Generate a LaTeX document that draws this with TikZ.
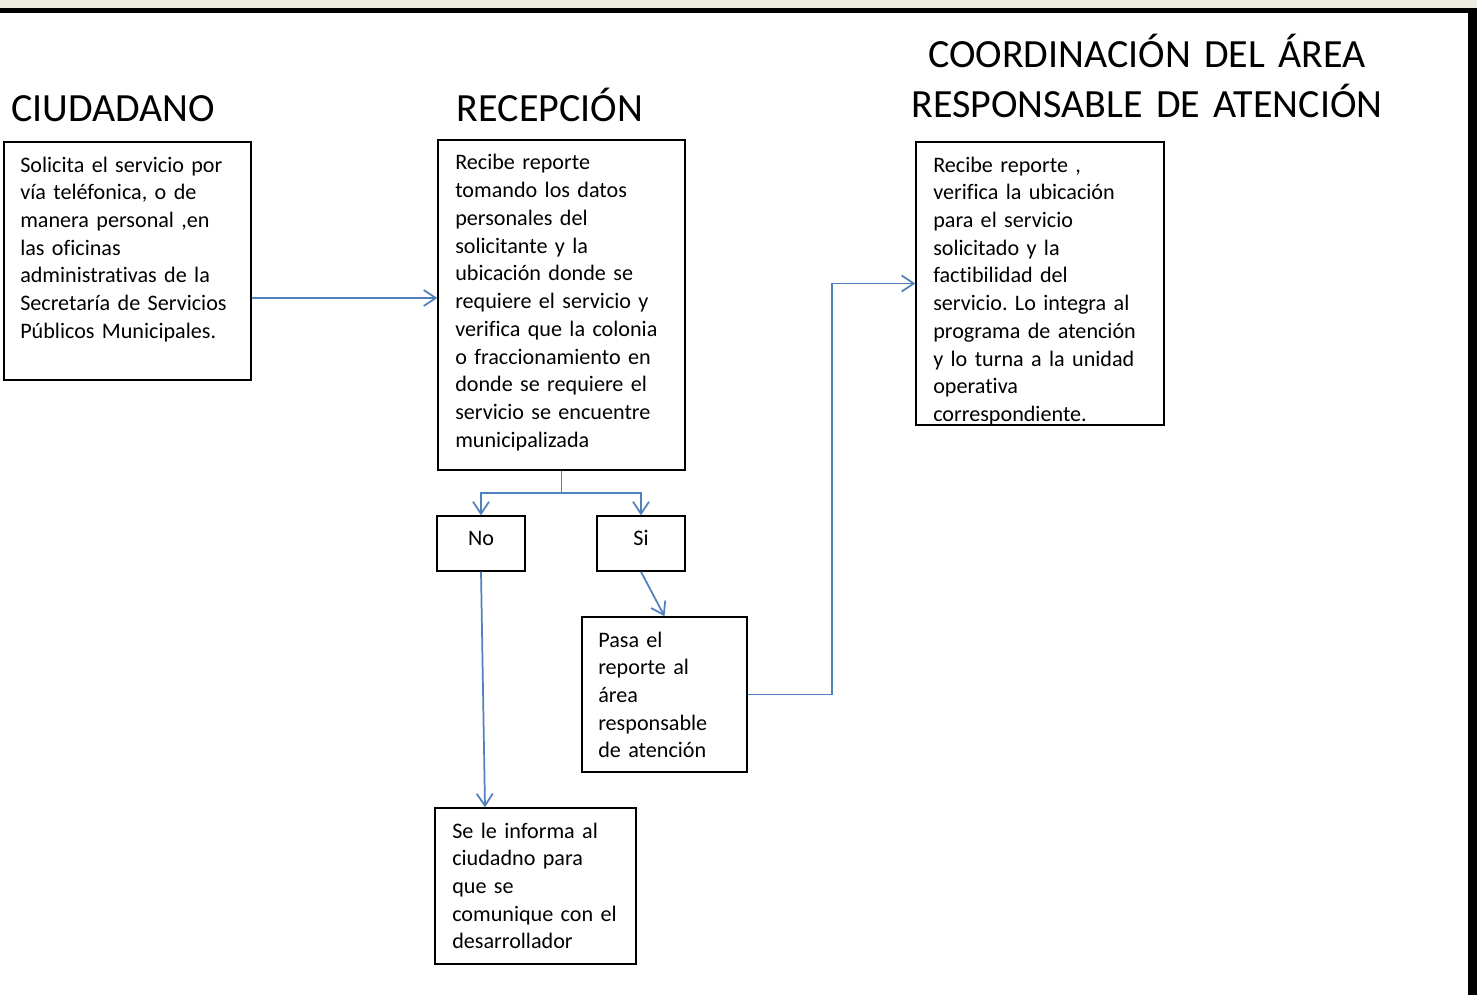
\documentclass[tikz,border=0pt]{standalone}
\usepackage{fontspec}
\setmainfont{Carlito}[Ligatures=CommonOff]
\frenchspacing
\usetikzlibrary{arrows.meta,fit}
\definecolor{flowblue}{RGB}{79,129,189}
\definecolor{topbeige}{RGB}{238,235,224}
\newcommand\bodyfont{\fontsize{16.6}{20.8}\selectfont}
\newcommand\headfont{\fontsize{30}{37.5}\selectfont}
\begin{document}
\begin{tikzpicture}[x=0.75pt,y=-0.75pt,
        box/.style={draw,line width=1.1pt,inner sep=0pt},
        boxtext/.style={anchor=base west,align=left,inner sep=0pt,text width=200pt,font=\bodyfont},
        head/.style={anchor=base,align=center,inner sep=0pt,text width=400pt,font=\headfont},
        answer/.style={box,font=\bodyfont},
        flow/.style={draw=flowblue,line width=1.3pt,-{Straight Barb[length=9pt,width=12pt]}}]
    \useasboundingbox[fill=white] (0,0) rectangle (1477,995);
    \fill[topbeige] (0,0) rectangle (1477,8);
    \fill[black] (0,8) rectangle (1477,13);
    \fill[black] (1468,8) rectangle (1477,995);

    \node[head] (hciu) at (113,122) {CIUDADANO};
    \node[head] (hrec) at (550,122) {RECEPCIÓN};
    \node[head] (hcoo) at (1147,68) {COORDINACIÓN DEL ÁREA\\RESPONSABLE DE ATENCIÓN};

    \node[box,fit={(4,142) (251,380)}] (ciu) {};
    \node[box,fit={(438,140) (685,470)}] (rec) {};
    \node[box,fit={(916,142) (1164,425)}] (coo) {};
    \node[answer,fit={(437,516) (525,571)}] (no) {\raisebox{-3pt}{No}};
    \node[answer,fit={(597,516) (685,571)}] (si) {\raisebox{-3pt}{Si}};
    \node[box,fit={(582,617) (747,772)}] (pasa) {};
    \node[box,fit={(435,808) (636,964)}] (inf) {};

    \node[boxtext] (tciu) at (20,172) {Solicita el servicio por\\
        vía teléfonica, o de\\
        manera personal ,en\\
        las oficinas\\
        administrativas de la\\
        Secretaría de Servicios\\
        Públicos Municipales.};
    \node[boxtext] (trec) at (455,170) {Recibe reporte\\
        tomando los datos\\
        personales del\\
        solicitante y la\\
        ubicación donde se\\
        requiere el servicio y\\
        verifica que la colonia\\
        o fraccionamiento en\\
        donde se requiere el\\
        servicio se encuentre\\
        municipalizada};
    \node[boxtext] (tcoo) at (933,172) {Recibe reporte ,\\
        verifica la ubicación\\
        para el servicio\\
        solicitado y la\\
        factibilidad del\\
        servicio. Lo integra al\\
        programa de atención\\
        y lo turna a la unidad\\
        operativa\\
        correspondiente.};
    \node[boxtext] (tpasa) at (598,647) {Pasa el\\
        reporte al\\
        área\\
        responsable\\
        de atención};
    \node[boxtext] (tinf) at (452,838) {Se le informa al\\
        ciudadno para\\
        que se\\
        comunique con el\\
        desarrollador};

    \coordinate (ciuout) at ([yshift=-27.75pt]ciu.east);
    \coordinate (split) at ([yshift=-16.5pt]rec.south);
    \draw[flow] (ciuout) -- (ciuout -| rec.west);
    \draw[flow] (rec.south) -- (split) -| (no.north);
    \draw[flow] (split) -| (si.north);
    \draw[flow] (no.south) -- ([xshift=3pt]no.south |- inf.north);
    \draw[flow] (si.south) -- (pasa.north);
    \draw[flow] (pasa.east) -- ++(84,0) |- (coo.west);
\end{tikzpicture}
\end{document}
